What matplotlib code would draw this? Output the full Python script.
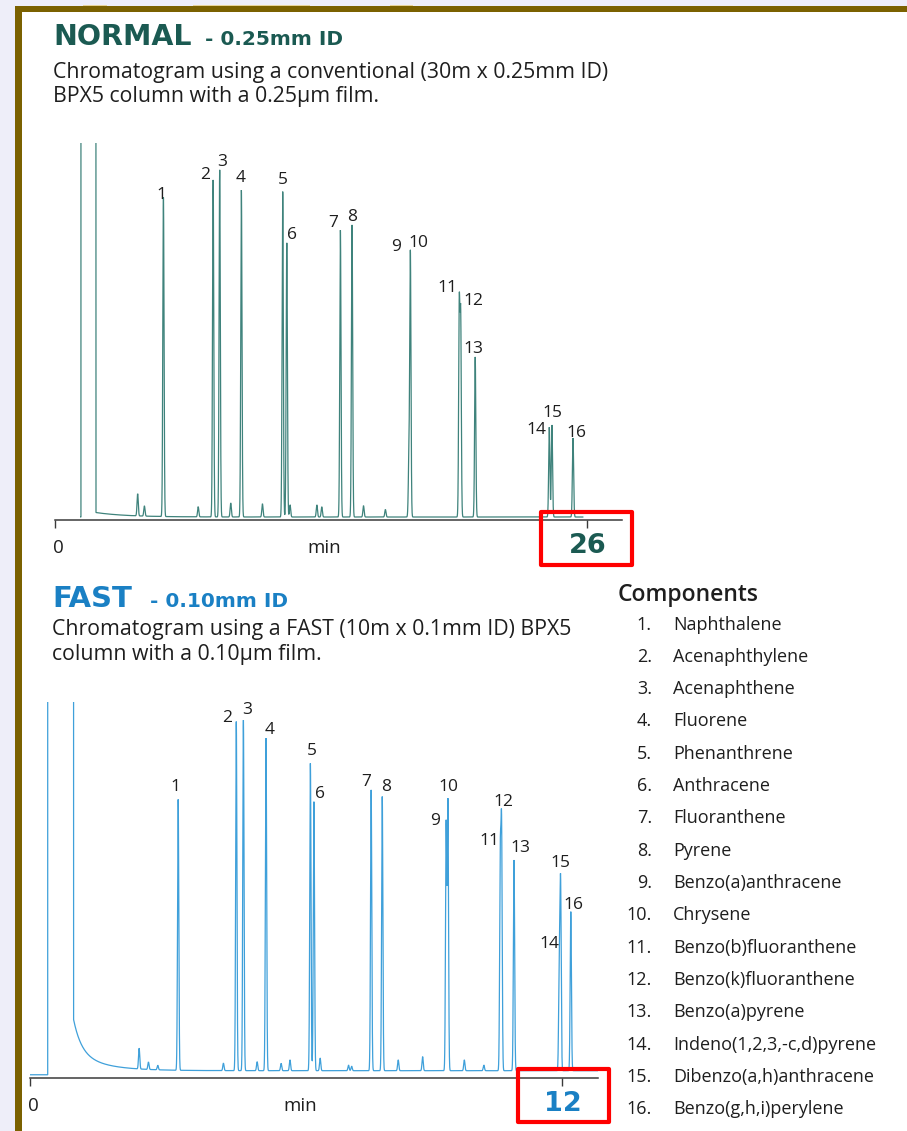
import numpy as np
import matplotlib
matplotlib.use("Agg")
import matplotlib.pyplot as plt
from matplotlib.patches import Rectangle

# ---------------- data ----------------
compounds = ["Naphthalene", "Acenaphthylene", "Acenaphthene", "Fluorene",
             "Phenanthrene", "Anthracene", "Fluoranthene", "Pyrene",
             "Benzo(a)anthracene", "Chrysene", "Benzo(b)fluoranthene",
             "Benzo(k)fluoranthene", "Benzo(a)pyrene", "Indeno(1,2,3,-c,d)pyrene",
             "Dibenzo(a,h)anthracene", "Benzo(g,h,i)perylene"]
peak_numbers = [str(i) for i in range(1, 17)]

# NORMAL column (30 m x 0.25 mm): retention time (min) and apex height (% of scale)
normal_rt = [5.30, 7.73, 8.05, 9.11, 11.13, 11.33, 13.95, 14.52,
             17.30, 17.37, 19.76, 19.83, 20.54, 24.16, 24.29, 25.32]
normal_height = [85.3, 90.1, 92.8, 87.4, 87.0, 73.3, 76.7, 78.1,
                 20.0, 71.4, 59.4, 56.1, 42.8, 24.0, 24.6, 21.1]
normal_minor_rt = [4.04, 4.37, 7.00, 8.59, 10.14, 11.49, 12.80, 13.04, 15.08, 16.15]
normal_minor_h = [5.9, 2.7, 2.7, 3.7, 3.5, 3.2, 3.2, 2.7, 3.0, 2.0]
normal_solvent = [1.27, 2.00]          # off-scale solvent band (min)
normal_tail_amp = [1.2]
normal_tail_tau = [1.5]
normal_run_end = 25.8
normal_axis_end = 27.7
normal_ticks = [0, 26]

# FAST column (10 m x 0.1 mm)
fast_rt = [3.34, 4.65, 4.81, 5.32, 6.32, 6.40, 7.69, 7.94,
           9.38, 9.42, 10.60, 10.63, 10.91, 11.93, 11.96, 12.19]
fast_height = [73.4, 94.6, 95.0, 90.1, 83.3, 72.9, 76.1, 74.3,
               67.9, 73.8, 61.7, 69.3, 57.1, 33.6, 53.0, 43.1]
fast_minor_rt = [2.46, 2.67, 2.88, 4.36, 5.12, 5.66, 5.86, 6.54, 7.18, 7.25,
                 8.30, 8.85, 9.79, 10.23]
fast_minor_h = [5.6, 2.0, 1.2, 2.0, 2.4, 2.0, 2.9, 3.4, 1.5, 1.2, 2.9, 3.8, 2.9, 1.5]
fast_solvent = [0.40, 0.98]
fast_tail_amp = [9.0, 5.0]
fast_tail_tau = [0.18, 0.63]
fast_pre_level = -1.1
fast_run_end = 12.81
fast_axis_end = 12.81
fast_ticks = [0, 12]

# ---------------- layout / style ----------------
W, H = 907, 1131
TEAL = "#1b5a52"
BLUE = "#1a80c4"
LINE_TEAL = "#3f837c"
LINE_BLUE = "#3fa0da"
TXT = "#1e1e1e"
SANS = "Open Sans"

# label offsets (pixels) relative to the peak apex
normal_lab_off = [(-2, -1), (-8, 1), (2, 4), (-1, 8), (0, 8), (5, 4), (-7, 3), (0, 4),
                  (-13, 191), (8, 3), (-12, 3), (13, 2), (-2, 4), (-13, -7), (0, 8), (3, 1)]
fast_lab_off = [(-3, 9), (-9, 0), (4, 6), (4, 4), (1, 8), (6, 4), (-5, 4), (4, 6),
                (-11, -5), (1, 7), (-11, -2), (2, 9), (6, 8), (-10, -1), (0, 8), (3, 3)]


def fx(x):
    return x / W


def fy(y):
    return 1 - y / H


def trace(t, rts, hs, sig, mrt, mh, solvent, tail_a, tail_tau, pre_level=0.0):
    """Sum of narrow Gaussian peaks whose apex heights equal the read values."""
    r = np.array(list(rts) + list(mrt), dtype=float)
    h = np.array(list(hs) + list(mh), dtype=float)
    M = np.exp(-0.5 * ((r[:, None] - r[None, :]) / sig) ** 2)
    amp = np.linalg.solve(M, h)
    y = np.zeros_like(t)
    for ri, ai in zip(r, amp):
        y += ai * np.exp(-0.5 * ((t - ri) / sig) ** 2)
    s0, s1 = solvent
    after = t > s1
    for a, tau in zip(tail_a, tail_tau):
        y[after] += a * np.exp(-(t[after] - s1) / tau)
    y[(t >= s0) & (t <= s1)] = 1000.0
    y[t < s0] = pre_level
    return y


fig = plt.figure(figsize=(W / 100, H / 100), dpi=100)
fig.patch.set_facecolor("#eeeef9")

# frame: white panel with olive border
fig.add_artist(Rectangle((fx(22), 0), 1 - fx(22), fy(12), transform=fig.transFigure,
                         fc="white", ec="none", zorder=0))
fig.add_artist(Rectangle((fx(15), 0), fx(7), fy(6), transform=fig.transFigure,
                         fc="#7b6100", ec="none", zorder=1))
fig.add_artist(Rectangle((fx(15), fy(12)), 1 - fx(15), 6 / H, transform=fig.transFigure,
                         fc="#7b6100", ec="none", zorder=1))
for a, b in [(83, 107), (193, 310), (390, 413)]:
    fig.add_artist(Rectangle((fx(a), fy(6)), fx(b - a), 1.5 / H, transform=fig.transFigure,
                             fc="#e8d49a", ec="none", zorder=1))


def chrom_axes(left, right, axis_y, top_y, ymin, xmax, t, y, color, ticks,
               rts, hs, offs, big_color):
    ax = fig.add_axes([fx(left), fy(axis_y), fx(right - left), (axis_y - top_y) / H])
    ax.set_facecolor("none")
    ax.plot(t, y, color=color, lw=0.9, solid_joinstyle="miter")
    ax.set_xlim(0, xmax)
    ax.set_ylim(ymin, 100)
    for s in ["top", "left", "right"]:
        ax.spines[s].set_visible(False)
    ax.spines["bottom"].set_color("#3a3a3a")
    ax.spines["bottom"].set_linewidth(1.1)
    ax.set_yticks([])
    ax.set_xticks(ticks)
    ax.set_xticklabels([])
    ax.tick_params(axis="x", direction="out", length=6, width=1.0, color="#3a3a3a")
    ax.annotate(str(ticks[0]), xy=(ticks[0], 0), xycoords=("data", "axes fraction"),
                xytext=(3, -28), textcoords="offset pixels", ha="center", va="center",
                fontsize=13.5, family=SANS, color=TXT)
    ax.annotate(str(ticks[1]), xy=(ticks[1], 0), xycoords=("data", "axes fraction"),
                xytext=(1, -26), textcoords="offset pixels", ha="center", va="center",
                fontsize=19.5, family="DejaVu Sans", weight="bold", color=big_color)
    ax.annotate("min", xy=(0.475, 0), xycoords="axes fraction",
                xytext=(0, -28), textcoords="offset pixels", ha="center", va="center",
                fontsize=13.5, family=SANS, color=TXT)
    for lab, r, h, (dx, dy) in zip(peak_numbers, rts, hs, offs):
        ax.annotate(lab, xy=(r, h), xycoords="data", xytext=(dx, dy),
                    textcoords="offset pixels", ha="center", va="baseline",
                    fontsize=12.5, family=SANS, color=TXT)
    return ax


t_norm = np.arange(normal_solvent[0] - 0.01, normal_run_end, 0.002)
y_norm = trace(t_norm, normal_rt, normal_height, 0.03, normal_minor_rt, normal_minor_h,
               normal_solvent, normal_tail_amp, normal_tail_tau)
chrom_axes(55, 621.7, 520, 143, -0.8, normal_axis_end, t_norm, y_norm, LINE_TEAL,
           normal_ticks, normal_rt, normal_height, normal_lab_off, TEAL)

t_fast = np.arange(0, fast_run_end, 0.001)
y_fast = trace(t_fast, fast_rt, fast_height, 0.014, fast_minor_rt, fast_minor_h,
               fast_solvent, fast_tail_amp, fast_tail_tau, fast_pre_level)
chrom_axes(30, 598.3, 1078.3, 701.7, -2.06, fast_axis_end, t_fast, y_fast, LINE_BLUE,
           fast_ticks, fast_rt, fast_height, fast_lab_off, BLUE)

# red highlight boxes
for (x0, y0, x1, y1) in [(541, 512, 632, 565), (518, 1069, 609, 1122)]:
    fig.add_artist(Rectangle((fx(x0), fy(y1)), fx(x1 - x0), (y1 - y0) / H,
                             transform=fig.transFigure, fill=False, ec="#ff0000",
                             lw=3.0, joinstyle="round", zorder=5))

# titles
fig.text(fx(53), fy(45), "NORMAL", fontsize=20.5, family="DejaVu Sans", weight="bold",
         color=TEAL, va="baseline")
fig.text(fx(205), fy(45), "- 0.25mm ID", fontsize=14.5, family="DejaVu Sans",
         weight="bold", color=TEAL, va="baseline")
fig.text(fx(53), fy(78), "Chromatogram using a conventional (30m x 0.25mm ID)",
         fontsize=15.3, family=SANS, color=TXT, va="baseline")
fig.text(fx(53), fy(102), "BPX5 column with a 0.25µm film.",
         fontsize=15.3, family=SANS, color=TXT, va="baseline")

fig.text(fx(52), fy(607), "FAST", fontsize=21, family="DejaVu Sans", weight="bold",
         color=BLUE, va="baseline")
fig.text(fx(150), fy(607), "- 0.10mm ID", fontsize=14.5, family="DejaVu Sans",
         weight="bold", color=BLUE, va="baseline")
fig.text(fx(52), fy(635), "Chromatogram using a FAST (10m x 0.1mm ID) BPX5",
         fontsize=15.3, family=SANS, color=TXT, va="baseline")
fig.text(fx(52), fy(660), "column with a 0.10µm film.",
         fontsize=15.3, family=SANS, color=TXT, va="baseline")

# components list
fig.text(fx(618), fy(601), "Components", fontsize=16.5, family=SANS, weight="semibold",
         color=TXT, va="baseline")
for i, (num, name) in enumerate(zip(peak_numbers, compounds)):
    yb = 629.5 + i * 32.33
    fig.text(fx(652), fy(yb), num + ".", fontsize=13, family=SANS, color=TXT,
             ha="right", va="baseline")
    fig.text(fx(673), fy(yb), name, fontsize=13, family=SANS, color=TXT,
             ha="left", va="baseline")

fig.savefig("out.png", dpi=100, facecolor=fig.get_facecolor())
